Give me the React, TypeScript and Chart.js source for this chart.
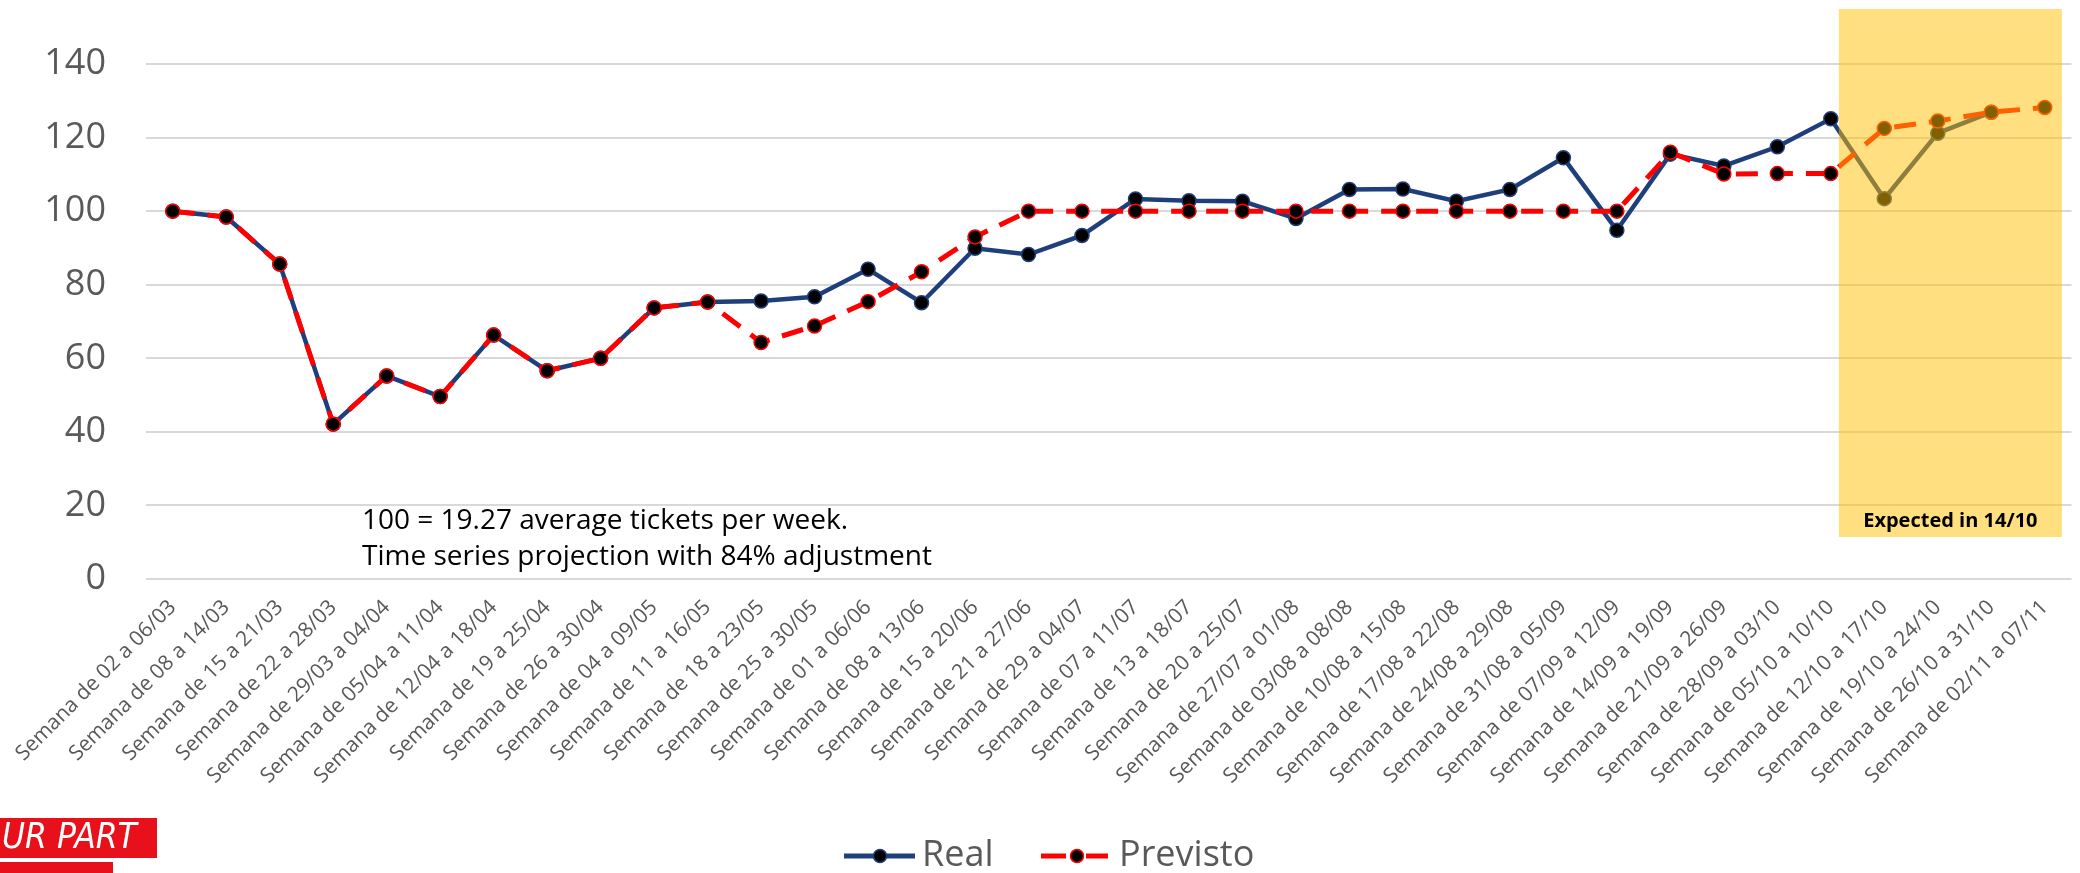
import React, { useEffect, useRef } from "react";
import { Chart, registerables } from "chart.js";

Chart.register(...registerables);

const categories = [
  "Semana de 02 a 06/03",
  "Semana de 08 a 14/03",
  "Semana de 15 a 21/03",
  "Semana de 22 a 28/03",
  "Semana de 29/03 a 04/04",
  "Semana de 05/04 a 11/04",
  "Semana de 12/04 a 18/04",
  "Semana de 19 a 25/04",
  "Semana de 26 a 30/04",
  "Semana de 04 a 09/05",
  "Semana de 11 a 16/05",
  "Semana de 18 a 23/05",
  "Semana de 25 a 30/05",
  "Semana de 01 a 06/06",
  "Semana de 08 a 13/06",
  "Semana de 15 a 20/06",
  "Semana de 21 a 27/06",
  "Semana de 29 a 04/07",
  "Semana de 07 a 11/07",
  "Semana de 13 a 18/07",
  "Semana de 20 a 25/07",
  "Semana de 27/07 a 01/08",
  "Semana de 03/08 a 08/08",
  "Semana de 10/08 a 15/08",
  "Semana de 17/08 a 22/08",
  "Semana de 24/08 a 29/08",
  "Semana de 31/08 a 05/09",
  "Semana de 07/09 a 12/09",
  "Semana de 14/09 a 19/09",
  "Semana de 21/09 a 26/09",
  "Semana de 28/09 a 03/10",
  "Semana de 05/10 a 10/10",
  "Semana de 12/10 a 17/10",
  "Semana de 19/10 a 24/10",
  "Semana de 26/10 a 31/10",
  "Semana de 02/11 a 07/11",
];

const realValues: (number | null)[] = [
  100, 98.4, 85.6, 42.1, 55.2, 49.6, 66.3, 56.6, 60, 73.7, 75.3, 75.6, 76.7,
  84.2, 75.1, 89.9, 88.2, 93.4, 103.3, 102.8, 102.7, 98, 105.9, 106, 102.7,
  105.9, 114.5, 94.8, 115.5, 112.3, 117.5, 125.1, 103.4, 121.2, 126.9, null,
];

const previstoValues: (number | null)[] = [
  100, 98.4, 85.6, 42.1, 55.2, 49.6, 66.3, 56.6, 60, 73.7, 75.3, 64.3, 68.8,
  75.4, 83.5, 93, 100, 100, 100, 100, 100, 100, 100, 100, 100, 100, 100, 100,
  116, 110.1, 110.2, 110.2, 122.5, 124.5, 126.9, 128.2,
];

const seriesNames = ["Real", "Previsto"];
const noteLines = [
  "100 = 19.27 average tickets per week.",
  "Time series projection with 84% adjustment",
];
const highlightLabel = "Expected in 14/10";
const logoText = "UR PART";

const FONT = "'Open Sans', sans-serif";
const NAVY = "#1F3F7C";
const RED = "#FF0000";
const GRAY = "#595959";

export default function App() {
  const ref = useRef<HTMLCanvasElement>(null);

  useEffect(() => {
    const canvas = ref.current;
    if (!canvas) return;

    const overlay = {
      id: "overlay",
      afterDatasetsDraw(chart: any) {
        const ctx = chart.ctx;
        const x = chart.scales.x;
        const step = x.getPixelForValue(1) - x.getPixelForValue(0);
        const left = x.getPixelForValue(31) + 0.15 * step;
        const right = x.getPixelForValue(35) + 0.32 * step;
        ctx.save();
        ctx.fillStyle = "rgba(255,192,0,0.5)";
        ctx.fillRect(left, 9, right - left, 537 - 9);
        ctx.fillStyle = "#000";
        ctx.font = `bold 20px ${FONT}`;
        ctx.textAlign = "center";
        ctx.textBaseline = "middle";
        ctx.fillText(highlightLabel, (left + right) / 2, 521);
        ctx.restore();
      },
      afterDraw(chart: any) {
        const ctx = chart.ctx;
        ctx.save();
        // note text
        ctx.fillStyle = "#000";
        ctx.font = `28px ${FONT}`;
        ctx.textAlign = "left";
        ctx.textBaseline = "middle";
        ctx.fillText(noteLines[0], 362, 521);
        ctx.fillText(noteLines[1], 362, 557);

        // legend
        const ly = 856;
        ctx.lineWidth = 5;
        ctx.strokeStyle = NAVY;
        ctx.beginPath();
        ctx.moveTo(844, ly);
        ctx.lineTo(915, ly);
        ctx.stroke();
        ctx.beginPath();
        ctx.arc(880, ly, 6.5, 0, Math.PI * 2);
        ctx.fillStyle = "#000";
        ctx.fill();
        ctx.lineWidth = 1.5;
        ctx.stroke();

        ctx.strokeStyle = RED;
        ctx.lineWidth = 5;
        ctx.beginPath();
        ctx.moveTo(1041, ly);
        ctx.lineTo(1066, ly);
        ctx.moveTo(1086, ly);
        ctx.lineTo(1108, ly);
        ctx.stroke();
        ctx.beginPath();
        ctx.arc(1077, ly, 6.5, 0, Math.PI * 2);
        ctx.fillStyle = "#000";
        ctx.fill();
        ctx.lineWidth = 1.5;
        ctx.stroke();

        ctx.fillStyle = GRAY;
        ctx.font = `36px ${FONT}`;
        ctx.textBaseline = "middle";
        ctx.fillText(seriesNames[0], 922, ly);
        ctx.fillText(seriesNames[1], 1119, ly);

        // logo fragment
        ctx.fillStyle = "#E8101A";
        ctx.fillRect(0, 818, 157, 40);
        ctx.fillRect(0, 862, 113, 11);
        ctx.fillStyle = "#FFFFFF";
        ctx.font = `italic 35px 'Liberation Sans Narrow', 'DejaVu Sans Condensed', sans-serif`;
        ctx.textAlign = "left";
        ctx.fillText(logoText, 2, 839);
        ctx.restore();
      },
    };

    const chart = new Chart(canvas, {
      type: "line",
      data: {
        labels: categories,
        datasets: [
          {
            label: seriesNames[1],
            data: previstoValues,
            borderColor: RED,
            borderWidth: 5,
            borderDash: [22, 13],
            pointRadius: 7,
            pointBackgroundColor: "#000",
            pointBorderColor: RED,
            pointBorderWidth: 1.5,
            tension: 0,
            order: 0,
          },
          {
            label: seriesNames[0],
            data: realValues,
            borderColor: NAVY,
            borderWidth: 4.5,
            pointRadius: 7,
            pointBackgroundColor: "#000",
            pointBorderColor: NAVY,
            pointBorderWidth: 1.5,
            tension: 0,
            order: 1,
          },
        ],
      },
      options: {
        responsive: false,
        animation: false,
        devicePixelRatio: 1,
        layout: { padding: { left: 0, right: 0, top: 64, bottom: 0 } },
        plugins: {
          legend: { display: false },
          tooltip: { enabled: false },
        },
        scales: {
          x: {
            offset: true,
            grid: { display: false, drawTicks: false },
            border: { display: false },
            ticks: {
              autoSkip: false,
              maxRotation: 45,
              minRotation: 45,
              color: GRAY,
              font: { family: FONT, size: 21 },
              padding: 16,
            },
            afterFit: (s: any) => {
              s.height = 294;
            },
          },
          y: {
            min: 0,
            max: 140,
            ticks: {
              stepSize: 20,
              color: GRAY,
              font: { family: FONT, size: 36 },
              padding: 40,
            },
            grid: { color: "#D9D9D9", lineWidth: 2, drawTicks: false },
            border: { display: false },
            afterFit: (s: any) => {
              s.width = 146;
            },
          },
        },
      },
      plugins: [overlay],
    });

    return () => chart.destroy();
  }, []);

  return (
    <div style={{ position: "fixed", left: 0, top: 0, width: 2080, height: 873, background: "#fff" }}>
      <canvas ref={ref} width={2080} height={873} style={{ display: "block" }} />
    </div>
  );
}
